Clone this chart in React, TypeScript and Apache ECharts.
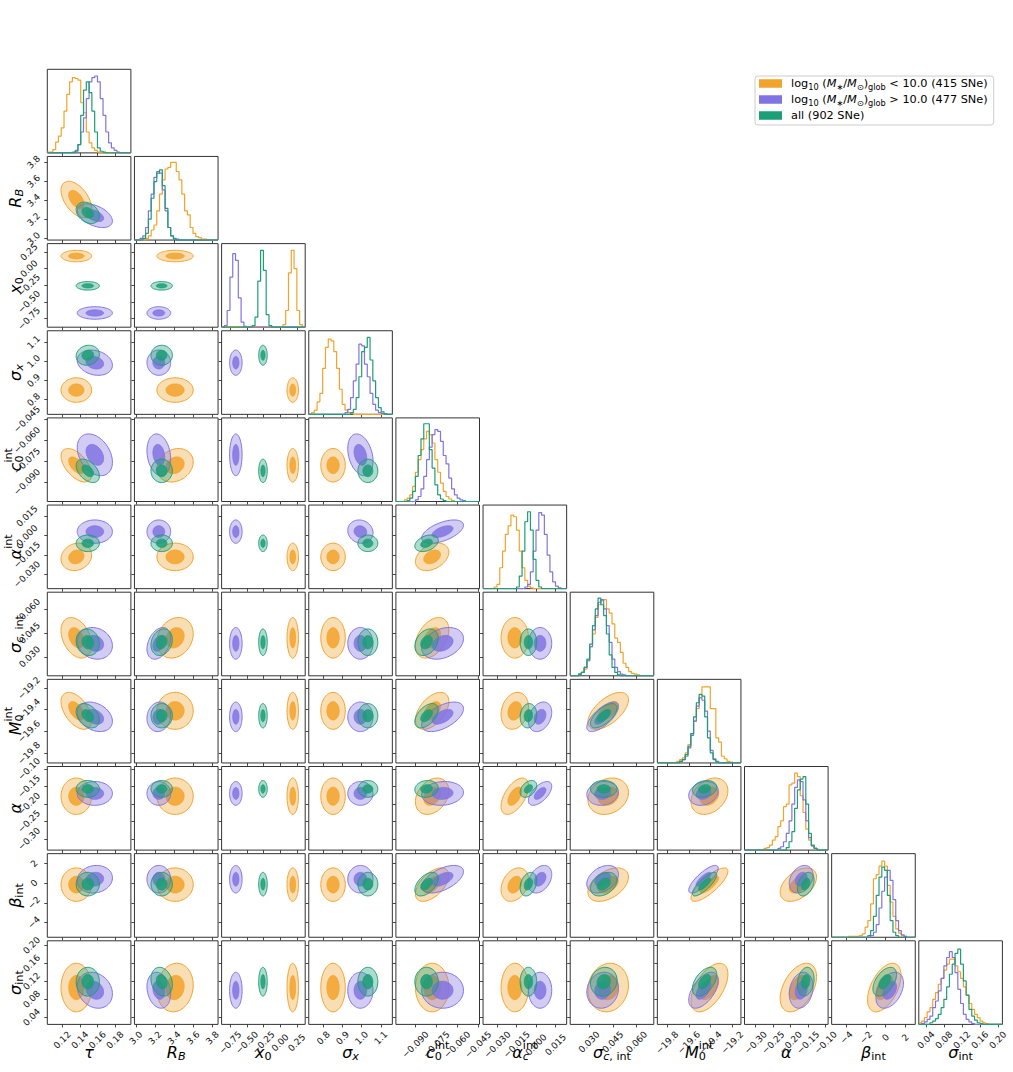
import React, { useEffect, useRef } from "react";
import * as echarts from "echarts";

const WIDTH = 1013;
const HEIGHT = 1072;
const FONT = '"DejaVu Sans", sans-serif';

// Corner-plot panel layout (pixels)
const LEFT0 = 47.3;
const TOP0 = 69.3;
const STEP = 87.15;
const SIDE = 83.6;
const NBINS = 30;
const NPAR = 11;

// Groups: low-mass hosts, high-mass hosts, full sample
const GROUP_NAMES = ["low", "high", "all"];
const GROUP_LABELS = [
  "{n|log}{s|10}{n| (}{i|M}{s|∗}{n|/}{i|M}{s|⊙}{n|)}{s|glob}{n| < 10.0 (415 SNe)}",
  "{n|log}{s|10}{n| (}{i|M}{s|∗}{n|/}{i|M}{s|⊙}{n|)}{s|glob}{n| > 10.0 (477 SNe)}",
  "{n|all (902 SNe)}",
];
const COLORS = ["#F2A32B", "#8173E2", "#1C9E76"];
const RGB = [
  [242, 163, 43],
  [129, 115, 226],
  [28, 158, 118],
];

// Parameter axes: tau, R_B, x0, sigma_x, c0^int, alpha_c^int, sigma_c,int, M0^int, alpha, beta_int, sigma_int
const AXIS_MIN = [0.103, 2.985, -0.88, 0.723, -0.104, -0.041, 0.018, -19.89, -0.332, -5.5, 0.024];
const AXIS_MAX = [0.198, 3.86, 0.377, 1.16, -0.044, 0.0235, 0.0708, -19.12, -0.093, 3.0, 0.21];
const TICKS = [
  [0.12, 0.14, 0.16, 0.18],
  [3.0, 3.2, 3.4, 3.6, 3.8],
  [-0.75, -0.5, -0.25, 0.0, 0.25],
  [0.8, 0.9, 1.0, 1.1],
  [-0.09, -0.075, -0.06, -0.045],
  [-0.03, -0.015, 0.0, 0.015],
  [0.03, 0.045, 0.06],
  [-19.8, -19.6, -19.4, -19.2],
  [-0.3, -0.25, -0.2, -0.15, -0.1],
  [-4, -2, 0, 2],
  [0.04, 0.08, 0.12, 0.16, 0.2],
];
const TICK_DECIMALS = [2, 1, 2, 1, 3, 3, 3, 1, 2, 0, 2];

// Axis names: [text, role, italic, stacked-over-previous]
const AXIS_NAMES: [string, string, number, number?][][] = [
  [["τ", "m", 1]],
  [["R", "m", 1], ["B", "sub", 1]],
  [["x", "m", 1], ["0", "sub", 0]],
  [["σ", "m", 1], ["x", "sub", 1]],
  [["c", "m", 1], ["0", "sub", 0], ["int", "sup", 0, 1]],
  [["α", "m", 1], ["c", "sub", 1], ["int", "sup", 0, 1]],
  [["σ", "m", 1], ["c", "sub", 1], [", int", "sub", 0]],
  [["M", "m", 1], ["0", "sub", 0], ["int", "sup", 0, 1]],
  [["α", "m", 1]],
  [["β", "m", 1], ["int", "sub", 0]],
  [["σ", "m", 1], ["int", "sub", 0]],
];

// Posterior summaries per group: means and standard deviations
const MEAN_LOW = [0.136, 3.41, 0.19, 0.85, -0.078, -0.0165, 0.042, -19.41, -0.178, -0.15, 0.106];
const MEAN_HIGH = [0.157, 3.24, -0.666, 0.993, -0.0705, 0.003, 0.0385, -19.465, -0.17, 0.4, 0.1];
const MEAN_ALL = [0.149, 3.27, -0.258, 1.032, -0.082, -0.006, 0.0392, -19.455, -0.157, -0.1, 0.119];
const SD_LOW = [0.0087, 0.095, 0.043, 0.032, 0.006, 0.0053, 0.0064, 0.085, 0.026, 0.85, 0.027];
const SD_HIGH = [0.01, 0.062, 0.047, 0.033, 0.0075, 0.0045, 0.005, 0.068, 0.017, 0.7, 0.02];
const SD_ALL = [0.0066, 0.056, 0.032, 0.026, 0.0042, 0.0032, 0.0042, 0.056, 0.012, 0.6, 0.016];

// Pairwise correlations (row i, column j < i)
const CORR_LOW = [
  [],
  [-0.5],
  [0, 0],
  [0, 0, 0],
  [-0.55, 0.2, 0, 0],
  [0.15, 0, 0, 0, 0.35],
  [-0.35, 0.2, 0, 0, 0.4, 0],
  [-0.5, 0, 0, 0, 0.5, 0.2, 0.6],
  [0, 0, 0, 0, 0.3, 0.55, 0.2, 0.3],
  [0, 0, 0, 0, 0.55, 0.3, 0.45, 0.8, 0.45],
  [0, 0.1, 0, 0, 0, 0, 0.1, 0.55, 0.45, 0.5],
];
const CORR_HIGH = [
  [],
  [-0.45],
  [0, 0],
  [-0.2, 0, 0],
  [-0.35, -0.2, 0, -0.3],
  [0, 0, 0, -0.1, 0.55],
  [-0.15, 0.35, 0, 0, 0.3, 0],
  [-0.3, 0.1, 0, 0, 0.55, 0.3, 0.7],
  [0, 0, 0, 0, 0.1, 0.6, 0.1, 0.2],
  [0.1, 0, 0, 0, 0.55, 0.35, 0.35, 0.8, 0.3],
  [-0.2, -0.2, 0, 0, 0, 0, 0.1, 0.55, 0.2, 0.4],
];
const CORR_ALL = [
  [],
  [-0.3],
  [0, 0],
  [0.1, 0, 0],
  [-0.45, 0, 0, 0],
  [0, 0, 0, 0, 0.35],
  [-0.1, 0.2, 0, 0, 0.3, 0],
  [-0.35, 0, 0, 0, 0.5, 0.1, 0.65],
  [0, 0, 0, 0, 0.1, 0.4, 0, 0.2],
  [0, 0, 0, 0, 0.5, 0.3, 0.35, 0.8, 0.35],
  [0, -0.2, 0, 0, 0, 0, 0.1, 0.5, 0.2, 0.5],
];

// Marginal histogram heights (fraction of panel height), 30 bins across each axis range
function bins(start: number, vals: number[]): number[] {
  const out = new Array(NBINS).fill(0);
  vals.forEach((v, k) => {
    out[start + k] = v;
  });
  return out;
}

const HIST_LOW = [
  bins(0, [0.01, 0.01, 0.04, 0.13, 0.2, 0.3, 0.5, 0.7, 0.85, 0.9, 0.89, 0.87, 0.6, 0.48, 0.25, 0.12, 0.06, 0.03, 0.01]),
  bins(4, [0.02, 0.05, 0.12, 0.18, 0.35, 0.55, 0.72, 0.85, 0.87, 0.93, 0.93, 0.82, 0.72, 0.55, 0.35, 0.3, 0.15, 0.08, 0.04, 0.03, 0.01, 0.01]),
  bins(22, [0.03, 0.2, 0.65, 0.92, 0.7, 0.2, 0.03]),
  bins(1, [0.02, 0.05, 0.15, 0.25, 0.55, 0.8, 0.9, 0.88, 0.75, 0.55, 0.3, 0.12, 0.05, 0.02, 0.01]),
  bins(3, [0.02, 0.04, 0.08, 0.18, 0.35, 0.5, 0.62, 0.75, 0.84, 0.8, 0.7, 0.5, 0.35, 0.22, 0.12, 0.06, 0.03, 0.01]),
  bins(4, [0.02, 0.05, 0.25, 0.45, 0.65, 0.75, 0.88, 0.86, 0.7, 0.45, 0.25, 0.1, 0.03, 0.01]),
  bins(3, [0.02, 0.04, 0.08, 0.18, 0.35, 0.5, 0.7, 0.85, 0.9, 0.91, 0.8, 0.75, 0.62, 0.45, 0.4, 0.28, 0.15, 0.1, 0.05, 0.03, 0.02, 0.01]),
  bins(7, [0.02, 0.04, 0.06, 0.12, 0.22, 0.35, 0.5, 0.65, 0.78, 0.91, 0.91, 0.91, 0.65, 0.65, 0.3, 0.25, 0.08, 0.05, 0.02, 0.01]),
  bins(7, [0.02, 0.03, 0.06, 0.12, 0.16, 0.28, 0.35, 0.52, 0.55, 0.78, 0.8, 0.92, 0.88, 0.65, 0.45, 0.25, 0.12, 0.05, 0.02, 0.01]),
  bins(6, [0.01, 0.01, 0.01, 0.01, 0.02, 0.04, 0.12, 0.2, 0.4, 0.7, 0.75, 0.85, 0.91, 0.85, 0.62, 0.42, 0.25, 0.1, 0.05, 0.02, 0.01]),
  bins(0, [0.02, 0.04, 0.08, 0.15, 0.2, 0.3, 0.38, 0.48, 0.55, 0.65, 0.72, 0.78, 0.78, 0.7, 0.63, 0.55, 0.45, 0.35, 0.25, 0.18, 0.12, 0.08, 0.04, 0.02, 0.01]),
];
const HIST_HIGH = [
  bins(9, [0.01, 0.03, 0.1, 0.25, 0.42, 0.65, 0.85, 0.9, 0.92, 0.85, 0.65, 0.45, 0.25, 0.12, 0.06, 0.03, 0.01]),
  bins(2, [0.02, 0.05, 0.15, 0.35, 0.55, 0.75, 0.82, 0.8, 0.6, 0.35, 0.15, 0.05, 0.02, 0.01]),
  bins(1, [0.02, 0.2, 0.6, 0.88, 0.8, 0.35, 0.06, 0.01]),
  bins(13, [0.02, 0.06, 0.2, 0.4, 0.6, 0.84, 0.82, 0.6, 0.45, 0.25, 0.12, 0.05, 0.02, 0.01]),
  bins(7, [0.02, 0.06, 0.15, 0.3, 0.5, 0.65, 0.8, 0.86, 0.84, 0.72, 0.55, 0.45, 0.28, 0.15, 0.08, 0.04, 0.02, 0.01]),
  bins(15, [0.02, 0.05, 0.2, 0.45, 0.7, 0.91, 0.88, 0.65, 0.4, 0.2, 0.08, 0.03, 0.01]),
  bins(3, [0.02, 0.04, 0.1, 0.18, 0.35, 0.55, 0.72, 0.88, 0.91, 0.8, 0.6, 0.4, 0.2, 0.1, 0.05, 0.02, 0.01]),
  bins(8, [0.02, 0.04, 0.08, 0.18, 0.33, 0.5, 0.68, 0.78, 0.75, 0.62, 0.38, 0.15, 0.05, 0.02]),
  bins(12, [0.02, 0.04, 0.1, 0.2, 0.35, 0.55, 0.75, 0.84, 0.82, 0.6, 0.35, 0.15, 0.05, 0.02]),
  bins(14, [0.02, 0.06, 0.15, 0.35, 0.55, 0.72, 0.8, 0.68, 0.45, 0.2, 0.08, 0.03, 0.01]),
  bins(1, [0.01, 0.03, 0.06, 0.1, 0.2, 0.28, 0.4, 0.55, 0.7, 0.8, 0.87, 0.8, 0.62, 0.42, 0.25, 0.12, 0.06, 0.03, 0.01]),
];
const HIST_ALL = [
  bins(10, [0.02, 0.1, 0.45, 0.75, 0.85, 0.72, 0.5, 0.25, 0.06, 0.02, 0.01]),
  bins(3, [0.02, 0.08, 0.25, 0.5, 0.7, 0.8, 0.84, 0.65, 0.38, 0.15, 0.05, 0.01]),
  bins(11, [0.02, 0.12, 0.55, 0.92, 0.68, 0.15, 0.02]),
  bins(15, [0.02, 0.06, 0.2, 0.45, 0.75, 0.8, 0.92, 0.65, 0.4, 0.2, 0.08, 0.03, 0.01]),
  bins(4, [0.01, 0.04, 0.12, 0.3, 0.55, 0.75, 0.93, 0.93, 0.62, 0.4, 0.2, 0.08, 0.03, 0.01]),
  bins(12, [0.02, 0.15, 0.45, 0.8, 0.92, 0.7, 0.35, 0.1, 0.02]),
  bins(3, [0.02, 0.04, 0.1, 0.2, 0.38, 0.6, 0.8, 0.93, 0.85, 0.72, 0.5, 0.25, 0.1, 0.04, 0.01]),
  bins(8, [0.02, 0.04, 0.1, 0.2, 0.35, 0.55, 0.72, 0.82, 0.8, 0.55, 0.3, 0.12, 0.04, 0.01]),
  bins(15, [0.03, 0.1, 0.22, 0.5, 0.72, 0.85, 0.88, 0.55, 0.2, 0.06, 0.02]),
  bins(13, [0.02, 0.08, 0.25, 0.5, 0.72, 0.84, 0.8, 0.5, 0.2, 0.06, 0.02]),
  bins(4, [0.02, 0.04, 0.07, 0.12, 0.2, 0.3, 0.45, 0.6, 0.72, 0.85, 0.9, 0.72, 0.52, 0.35, 0.18, 0.1, 0.05, 0.02, 0.01]),
];

const MEANS = [MEAN_LOW, MEAN_HIGH, MEAN_ALL];
const SDS = [SD_LOW, SD_HIGH, SD_ALL];
const CORRS = [CORR_LOW, CORR_HIGH, CORR_ALL];
const HISTS = [HIST_LOW, HIST_HIGH, HIST_ALL];

const measureCtx = document.createElement("canvas").getContext("2d")!;
function textWidth(s: string, size: number, italic: boolean): number {
  measureCtx.font = `${italic ? "italic " : ""}${size}px "DejaVu Sans"`;
  return measureCtx.measureText(s).width;
}

function fmtTick(v: number, d: number): string {
  const s = Math.abs(v) < 1e-12 ? (0).toFixed(d) : v.toFixed(d);
  return s.replace("-", "\u2212");
}

const rgba = (g: number, a: number) => `rgba(${RGB[g][0]},${RGB[g][1]},${RGB[g][2]},${a})`;

// Filled 1- and 2-sigma regions of a bivariate normal, drawn in data space
function renderContour(_params: any, api: any) {
  const mx = api.value(0);
  const my = api.value(1);
  const sx = api.value(2);
  const sy = api.value(3);
  const rho = api.value(4);
  const g = api.value(5);
  const q = Math.sqrt(Math.max(0, 1 - rho * rho));
  const ring = (r: number) => {
    const pts: number[][] = [];
    for (let k = 0; k < 80; k++) {
      const t = (k / 80) * Math.PI * 2;
      const u = Math.cos(t);
      const v = Math.sin(t);
      pts.push(api.coord([mx + r * sx * u, my + r * sy * (rho * u + q * v)]));
    }
    return pts;
  };
  return {
    type: "group",
    children: [
      {
        type: "polygon",
        shape: { points: ring(2) },
        style: { fill: rgba(g, 0.36), stroke: COLORS[g], lineWidth: 1 },
      },
      {
        type: "polygon",
        shape: { points: ring(1) },
        style: { fill: rgba(g, 0.85), stroke: COLORS[g], lineWidth: 0.8 },
      },
    ],
  };
}

function axisNameGraphic(idx: number, cx: number, cy: number, vertical: boolean) {
  const F = 16;
  const parts = AXIS_NAMES[idx];
  let cursor = 0;
  let prevX = 0;
  const items: any[] = [];
  parts.forEach(([t, role, it, stack]) => {
    const fs = role === "m" ? F : F * 0.7;
    const x = stack ? prevX : cursor;
    const w = textWidth(t, fs, !!it);
    const dy = role === "sub" ? F * 0.3 : role === "sup" ? -F * 0.42 : 0;
    items.push({ t, x, dy, fs, it });
    prevX = x;
    cursor = Math.max(cursor, x + w);
  });
  const total = cursor;
  return {
    type: "group",
    x: cx,
    y: cy,
    rotation: vertical ? Math.PI / 2 : 0,
    children: items.map((p) => ({
      type: "text",
      x: p.x - total / 2,
      y: p.dy,
      style: {
        text: p.t,
        fontSize: p.fs,
        fontStyle: p.it ? "italic" : "normal",
        fontFamily: FONT,
        fill: "#000",
        align: "left",
        verticalAlign: "middle",
      },
    })),
  };
}

function buildOption() {
  const grids: any[] = [];
  const xAxes: any[] = [];
  const yAxes: any[] = [];
  const series: any[] = [];
  const tickFont = 9;

  const margins = TICKS.map((ts, p) => {
    const L = Math.max(...ts.map((v) => textWidth(fmtTick(v, TICK_DECIMALS[p]), tickFont, false)));
    return 5 + (L + 10) / (2 * Math.SQRT2);
  });

  const axisBase = (p: number, showLabel: boolean) => ({
    type: "value",
    min: AXIS_MIN[p],
    max: AXIS_MAX[p],
    axisLine: { show: false, onZero: false },
    splitLine: { show: false },
    axisTick: {
      show: true,
      length: 3,
      customValues: TICKS[p],
      lineStyle: { color: "#333", width: 0.9 },
    },
    axisLabel: {
      show: showLabel,
      customValues: TICKS[p],
      rotate: 45,
      align: "center",
      verticalAlign: "middle",
      margin: margins[p],
      fontSize: tickFont,
      fontFamily: FONT,
      color: "#111",
      hideOverlap: false,
      showMinLabel: true,
      showMaxLabel: true,
      formatter: (v: number) => fmtTick(v, TICK_DECIMALS[p]),
    },
  });

  let k = 0;
  for (let i = 0; i < NPAR; i++) {
    for (let j = 0; j <= i; j++) {
      grids.push({
        left: LEFT0 + j * STEP,
        top: TOP0 + i * STEP,
        width: SIDE,
        height: SIDE,
        show: true,
        borderColor: "#333",
        borderWidth: 1,
        backgroundColor: "transparent",
      });
      xAxes.push({ ...axisBase(j, i === NPAR - 1), gridIndex: k, position: "bottom" });
      if (i === j) {
        yAxes.push({ type: "value", gridIndex: k, min: 0, max: 1, show: false });
        const edges: number[] = [];
        for (let b = 0; b <= NBINS; b++) {
          edges.push(AXIS_MIN[i] + ((AXIS_MAX[i] - AXIS_MIN[i]) * b) / NBINS);
        }
        for (let g = 0; g < 3; g++) {
          const h = HISTS[g][i];
          series.push({
            type: "line",
            name: GROUP_NAMES[g],
            xAxisIndex: k,
            yAxisIndex: k,
            step: "end",
            symbol: "none",
            silent: true,
            data: edges.map((e, b) => [e, h[Math.min(b, NBINS - 1)]]),
            lineStyle: { color: COLORS[g], width: 1.2 },
            itemStyle: { color: COLORS[g] },
            z: 3 + g,
          });
        }
      } else {
        yAxes.push({ ...axisBase(i, j === 0), gridIndex: k, position: "left" });
        const data = [0, 1, 2].map((g) => [
          MEANS[g][j],
          MEANS[g][i],
          SDS[g][j],
          SDS[g][i],
          CORRS[g][i][j],
          g,
        ]);
        series.push({
          type: "custom",
          name: "contours",
          xAxisIndex: k,
          yAxisIndex: k,
          clip: true,
          silent: true,
          encode: { x: 0, y: 1 },
          renderItem: renderContour,
          data,
          z: 2,
        });
      }
      k++;
    }
  }

  const graphics: any[] = [];
  for (let p = 0; p < NPAR; p++) {
    graphics.push(axisNameGraphic(p, LEFT0 + p * STEP + SIDE / 2, 1052, false));
    if (p > 0) graphics.push(axisNameGraphic(p, 15, TOP0 + p * STEP + SIDE / 2, true));
  }

  return {
    animation: false,
    backgroundColor: "#fff",
    textStyle: { fontFamily: FONT },
    grid: grids,
    xAxis: xAxes,
    yAxis: yAxes,
    series,
    graphic: { elements: graphics },
    legend: {
      data: GROUP_NAMES,
      orient: "vertical",
      left: 755,
      top: 76,
      icon: "rect",
      itemWidth: 23,
      itemHeight: 8.5,
      itemGap: 3,
      padding: [2, 6, 4, 4],
      backgroundColor: "#fff",
      borderColor: "#ccc",
      borderWidth: 1,
      borderRadius: 3,
      selectedMode: false,
      formatter: (name: string) => GROUP_LABELS[GROUP_NAMES.indexOf(name)],
      textStyle: {
        fontFamily: FONT,
        fontSize: 11.3,
        color: "#000",
        padding: [0, 0, 0, 4],
        rich: {
          n: { fontSize: 11.3, fontFamily: FONT, color: "#000", lineHeight: 15 },
          i: { fontSize: 11.3, fontFamily: FONT, fontStyle: "italic", color: "#000", lineHeight: 15 },
          s: { fontSize: 8.2, fontFamily: FONT, color: "#000", lineHeight: 8, verticalAlign: "bottom" },
        },
      },
    },
  };
}

export default function App() {
  const ref = useRef<HTMLDivElement>(null);
  useEffect(() => {
    if (!ref.current) return;
    const chart = echarts.init(ref.current, null, { renderer: "svg" });
    chart.setOption(buildOption() as any);
    return () => chart.dispose();
  }, []);
  return (
    <div
      ref={ref}
      style={{ position: "absolute", left: 0, top: 0, width: WIDTH, height: HEIGHT, background: "#fff" }}
    />
  );
}
